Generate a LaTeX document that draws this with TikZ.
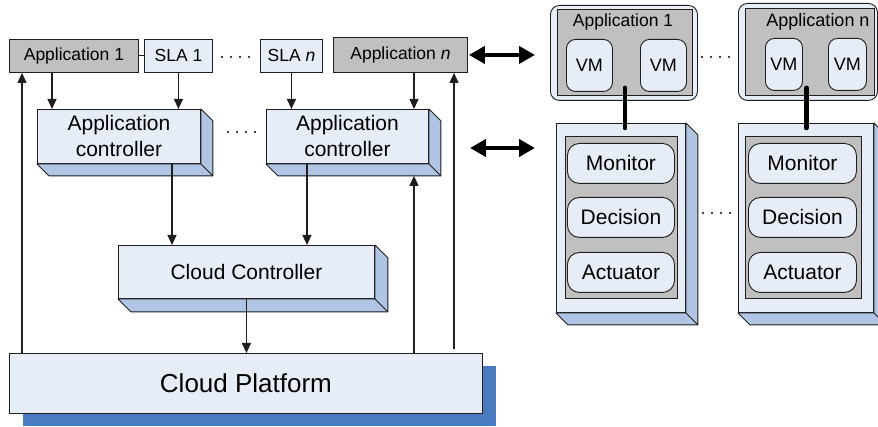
\documentclass[tikz,border=0pt]{standalone}
\usepackage{fontspec}
\setmainfont{Liberation Sans}
\usetikzlibrary{arrows.meta, calc, shadows}
\definecolor{faceblue}{HTML}{E7EDF7}
\definecolor{sideblue}{HTML}{B0C4E4}
\definecolor{appgray}{HTML}{C0C0C0}
\definecolor{dropblue}{HTML}{4A7BC0}
\definecolor{edge}{HTML}{1E1E1E}

% side and bottom faces of a raised block
\newcommand{\sideface}[2][12]{%
  \filldraw[fill=sideblue, draw=edge, line width=0.9pt, line join=round]
    (#2.north east) -- ++(#1,#1) -- ($(#2.south east)+(#1,#1)$)
    -- ($(#2.south west)+(#1,#1)$) -- (#2.south west) -- (#2.south east) -- cycle;
  \draw[edge, line width=0.9pt] (#2.south east) -- ++(#1,#1);
}

\begin{document}
\begin{tikzpicture}[
  x=1pt, y=-1pt,
  >={Triangle[length=10pt, width=9pt]},
  box/.style={draw=edge, line width=0.9pt, inner sep=0pt, anchor=north west},
  fsmall/.style={font=\fontsize{17.5}{20}\selectfont},
  fvm/.style={font=\fontsize{18}{21}\selectfont},
  fmid/.style={font=\fontsize{21}{26}\selectfont},
  fbig/.style={font=\fontsize{26}{30}\selectfont},
  arr/.style={->, draw=edge, line width=1.2pt},
  dblarr/.style={{Triangle[length=16pt, width=17pt]}-{Triangle[length=16pt, width=17pt]}, line width=4pt},
  thickln/.style={line width=4.5pt, line cap=round},
  dots/.style={line width=2.3pt, line cap=round, dash pattern=on 0pt off 9pt},
]
\useasboundingbox (0,0) rectangle (878,427);

% ========================================
% Left: applications, SLAs, controllers
% ========================================
\node[box, fill=appgray, minimum width=129, minimum height=33, fsmall] (app1) at (9,39) {Application 1};
\node[box, fill=faceblue, minimum width=68, minimum height=33, fsmall] (sla1) at (144,39) {SLA 1};
\node[box, fill=faceblue, minimum width=62, minimum height=33, fsmall] (slan) at (260,39) {SLA \emph{n}};
\node[box, fill=appgray, minimum width=134, minimum height=35, fsmall] (appn) at (333,37) {Application \emph{n}};
\draw[edge, line width=0.9pt] (app1.east) -- (sla1.west);
\draw[dots] (222,57) -- (250,57);

% Application controllers
\node[box, fill=faceblue, minimum width=163, minimum height=54, fmid, align=center] (ac1) at (37,109) {Application\\controller};
\sideface{ac1}
\node[box, fill=faceblue, minimum width=162, minimum height=54, fmid, align=center] (acn) at (266,109) {Application\\controller};
\sideface{acn}
\draw[dots] (228,132) -- (256,132);

% Cloud controller
\node[box, fill=faceblue, minimum width=256, minimum height=53, fmid] (cc) at (118,245) {Cloud Controller};
\sideface[13]{cc}

% Cloud platform
\node[box, fill=faceblue, minimum width=473, minimum height=60, fbig,
  drop shadow={shadow xshift=14pt, shadow yshift=-13pt, fill=dropblue, opacity=1}] (cp) at (9,353) {Cloud Platform};

% Arrows
\draw[arr] ([xshift=43]app1.south west) coordinate (s) -- (s |- ac1.north);
\draw[arr] (sla1.south) coordinate (s) -- (s |- ac1.north);
\draw[arr] (slan.south) coordinate (s) -- (s |- acn.north);
\draw[arr] ([xshift=81]appn.south west) coordinate (s) -- (s |- acn.north);
\draw[arr] ([xshift=135]ac1.south west) coordinate (s) -- (s |- cc.north);
\draw[arr] ([xshift=41]acn.south west) coordinate (s) -- (s |- cc.north);
\draw[arr] (cc.south) -- (cp.north -| cc.south);
\draw[arr] ([xshift=13]cp.north west) coordinate (s) -- (s |- app1.south);
\draw[arr, shorten >=12pt] ([xshift=405]cp.north west) coordinate (s) -- (s |- acn.south);
\draw[arr] ([xshift=445,yshift=4]cp.north west) coordinate (s) -- (s |- appn.south);

% Links to the right side
\draw[dblarr, shorten <=1pt, shorten >=15pt] (appn.east) -- (appn.east -| 550,0);
\draw[dblarr] (470,148) -- (535,148);

% ========================================
% Right: applications with their VMs
% ========================================
\node[box, rounded corners=9, fill=faceblue, minimum width=147, minimum height=95] (apo1) at (550,5) {};
\node[box, fill=appgray, minimum width=135, minimum height=86] (api1) at (557,9) {};
\node[fsmall] (apt1) at (623,22) {Application 1};
\node[box, rounded corners=9, fill=faceblue, minimum width=46, minimum height=52, fvm] (vm11) at (566,39) {VM};
\node[box, rounded corners=9, fill=faceblue, minimum width=46, minimum height=52, fvm] (vm12) at (640,39) {VM};

\node[box, rounded corners=9, fill=faceblue, minimum width=139, minimum height=97] (apon) at (738,3) {};
\node[box, fill=appgray, minimum width=129, minimum height=87] (apin) at (745,8) {};
\node[fvm] (aptn) at (818,22) {Application n};
\node[box, rounded corners=9, fill=faceblue, minimum width=37, minimum height=52, fvm] (vmn1) at (765,38) {VM};
\node[box, rounded corners=9, fill=faceblue, minimum width=38, minimum height=52, fvm] (vmn2) at (828,38) {VM};
\draw[dots] (702,57) -- (730,57);

% ========================================
% Right: control loops
% ========================================
\node[box, fill=faceblue, minimum width=129, minimum height=189] (ag1) at (556,123) {};
\sideface{ag1}
\node[box, fill=appgray, minimum width=112, minimum height=162] (agi1) at (565,136) {};
\node[box, rounded corners=12, fill=faceblue, minimum width=107, minimum height=40, fmid] (mon1) at (567,143) {Monitor};
\node[box, rounded corners=12, fill=faceblue, minimum width=107, minimum height=40, fmid] (dec1) at (567,197) {Decision};
\node[box, rounded corners=12, fill=faceblue, minimum width=107, minimum height=40, fmid] (act1) at (567,252) {Actuator};

\node[box, fill=faceblue, minimum width=135, minimum height=189] (agn) at (738,123) {};
\sideface{agn}
\node[box, fill=appgray, minimum width=116, minimum height=162] (agin) at (745,136) {};
\node[box, rounded corners=12, fill=faceblue, minimum width=108, minimum height=40, fmid] (monn) at (748,143) {Monitor};
\node[box, rounded corners=12, fill=faceblue, minimum width=108, minimum height=40, fmid] (decn) at (748,197) {Decision};
\node[box, rounded corners=12, fill=faceblue, minimum width=108, minimum height=40, fmid] (actn) at (748,252) {Actuator};
\draw[dots] (703,213) -- (731,213);

% App to loop links
\draw[thickln] ([yshift=8]api1.south) -- ([yshift=-5]ag1.north -| api1.south);
\draw[thickln] ([xshift=-3.5,yshift=8]apin.south) coordinate (s) -- ([yshift=-5]s |- agn.north);

\end{tikzpicture}
\end{document}
